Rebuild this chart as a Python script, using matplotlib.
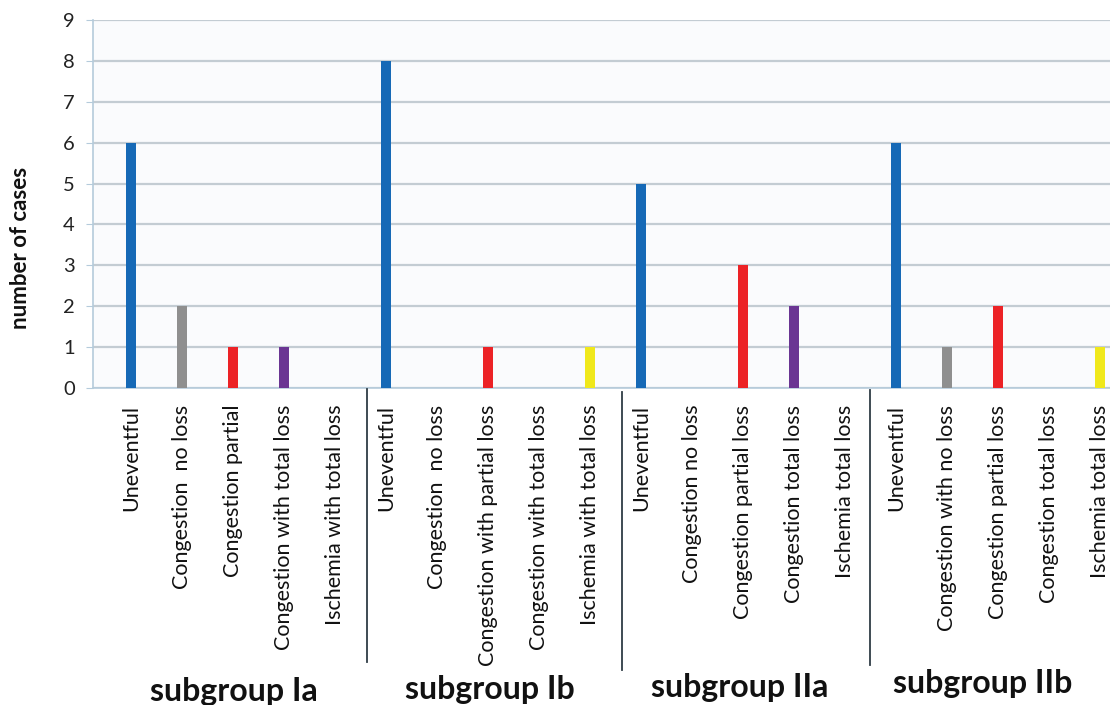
import matplotlib
matplotlib.use("Agg")
import matplotlib.pyplot as plt
from matplotlib.lines import Line2D

# Outcome categories per subgroup (tick labels as printed)
labels_Ia = ["Uneventful", "Congestion  no loss", "Congestion partial",
             "Congestion with total loss", "Ischemia with total loss"]
labels_Ib = ["Uneventful", "Congestion  no loss", "Congestion with partial loss",
             "Congestion with total loss", "Ischemia with total loss"]
labels_IIa = ["Uneventful", "Congestion no loss", "Congestion partial loss",
              "Congestion total loss", "Ischemia total loss"]
labels_IIb = ["Uneventful", "Congestion with no loss", "Congestion partial loss",
              "Congestion total loss", "Ischemia total loss"]

# Number of cases per outcome
cases_Ia = [6, 2, 1, 1, 0]
cases_Ib = [8, 0, 1, 0, 1]
cases_IIa = [5, 0, 3, 2, 0]
cases_IIb = [6, 1, 2, 0, 1]

subgroups = ["subgroup Ia", "subgroup Ib", "subgroup IIa", "subgroup IIb"]

# Colour for each outcome position within a subgroup
outcome_colors = ["#1669b6", "#8f8f8f", "#ec2226", "#6a3593", "#f0e81c"]

labels = labels_Ia + labels_Ib + labels_IIa + labels_IIb
values = cases_Ia + cases_Ib + cases_IIa + cases_IIb
colors = outcome_colors * 4
x = list(range(len(values)))

plt.rcParams["font.family"] = ["Lato", "DejaVu Sans"]

W, H = 1110, 705
fig = plt.figure(figsize=(W / 100, H / 100), dpi=100)
fig.patch.set_facecolor("white")

ax_left, ax_right, ax_top, ax_bottom = 93, 1110, 20, 388
ax = fig.add_axes([ax_left / W, 1 - ax_bottom / H,
                   (ax_right - ax_left) / W, (ax_bottom - ax_top) / H])
ax.set_facecolor("#fafbfd")

ax.bar(x, values, width=0.215, color=colors, zorder=3)

# category centre 0 sits at pixel 131, spacing 51 px
first_px, step = 131, 51.0
ax.set_xlim((ax_left - first_px) / step, (ax_right - first_px) / step)
ax.set_ylim(0, 9)
ax.set_yticks(range(10))
ax.yaxis.grid(True, color="#c3ccd3", linewidth=1.6, zorder=0)
ax.set_axisbelow(True)

for side in ("top", "right"):
    ax.spines[side].set_visible(False)
ax.spines["left"].set_color("#b5cbdb")
ax.spines["left"].set_linewidth(1.2)
ax.spines["bottom"].set_color("#b5cbdb")
ax.spines["bottom"].set_linewidth(1.2)

ax.tick_params(axis="y", length=5, color="#b5cbdb", labelsize=14.5,
               pad=8, labelcolor="#222222")
ax.set_xticks(x)
ax.set_xticklabels(labels, rotation=90, va="top", ha="center",
                   fontsize=15.5, color="#111111")
ax.tick_params(axis="x", length=0, pad=12)

fig.text(21 / W, 1 - 248 / H, "number of cases", rotation=90,
         ha="center", va="center", fontsize=16, fontweight="bold",
         color="#111111")

# Separator strokes between subgroups
dividers = [(367, 389, 662), (622, 392, 670), (870, 390, 665)]
for px, y0, y1 in dividers:
    fig.add_artist(Line2D([px / W, px / W], [1 - y0 / H, 1 - y1 / H],
                          color="#2f3d45", linewidth=1.3))

# Subgroup captions beneath the tick labels
caption_pos = [(234, 692), (490, 689), (740, 687), (983, 683)]
for name, (px, py) in zip(subgroups, caption_pos):
    fig.text(px / W, 1 - py / H, name, ha="center", va="center",
             fontsize=23, fontweight="bold", color="#111111")

fig.savefig("out.png", dpi=100)
